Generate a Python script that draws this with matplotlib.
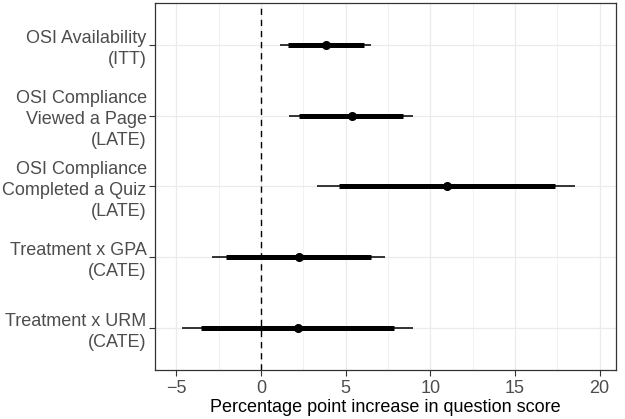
import matplotlib
matplotlib.use('Agg')
import matplotlib.pyplot as plt
from matplotlib.ticker import MultipleLocator

# estimates, top row first
labels = [
    "OSI Availability\n(ITT)",
    "OSI Compliance\nViewed a Page\n(LATE)",
    "OSI Compliance\nCompleted a Quiz\n(LATE)",
    "Treatment x GPA\n(CATE)",
    "Treatment x URM\n(CATE)",
]
estimate = [3.82, 5.36, 10.97, 2.22, 2.17]
ci_inner_lo = [1.57, 2.26, 4.59, -2.07, -3.54]
ci_inner_hi = [6.06, 8.41, 17.37, 6.50, 7.86]
ci_outer_lo = [1.13, 1.67, 3.33, -2.91, -4.65]
ci_outer_hi = [6.50, 9.00, 18.57, 7.34, 8.96]
x_ticks = [-5, 0, 5, 10, 15, 20]

plt.rcParams['font.family'] = ['Liberation Sans', 'DejaVu Sans']

fig = plt.figure(figsize=(6.25, 4.19), dpi=100)
ax = fig.add_axes([0.248, 0.117, 0.7376, 0.8762])

n = len(labels)
ypos = [n - i for i in range(n)]

ax.hlines(ypos, ci_outer_lo, ci_outer_hi, color='black', lw=1.1, zorder=3)
ax.hlines(ypos, ci_inner_lo, ci_inner_hi, color='black', lw=3.6, zorder=4)
ax.plot(estimate, ypos, 'o', color='black', ms=5.5, zorder=5)
ax.axvline(0, color='black', lw=1.0, ls=(0, (4.5, 3.5)), zorder=2)

ax.set_xlim(-6.26, 20.97)
ax.set_ylim(0.4, n + 0.6)
ax.set_xticks(x_ticks)
ax.xaxis.set_minor_locator(MultipleLocator(2.5))
ax.set_yticks(ypos)
ax.set_yticklabels(labels, fontsize=13, color='#4d4d4d', linespacing=1.3)
ax.tick_params(axis='x', labelsize=13, labelcolor='#4d4d4d', color='#333333', length=4)
ax.tick_params(axis='y', color='#333333', length=4, pad=2)
ax.tick_params(which='minor', length=0)

ax.grid(True, which='major', color='#ebebeb', lw=0.9, zorder=0)
ax.grid(True, which='minor', axis='x', color='#ebebeb', lw=0.5, zorder=0)
ax.set_axisbelow(True)
for s in ax.spines.values():
    s.set_color('#333333')
    s.set_linewidth(0.9)

ax.set_xlabel('Percentage point increase in question score', fontsize=13, color='black', labelpad=1)

fig.savefig('out.png', dpi=100)
